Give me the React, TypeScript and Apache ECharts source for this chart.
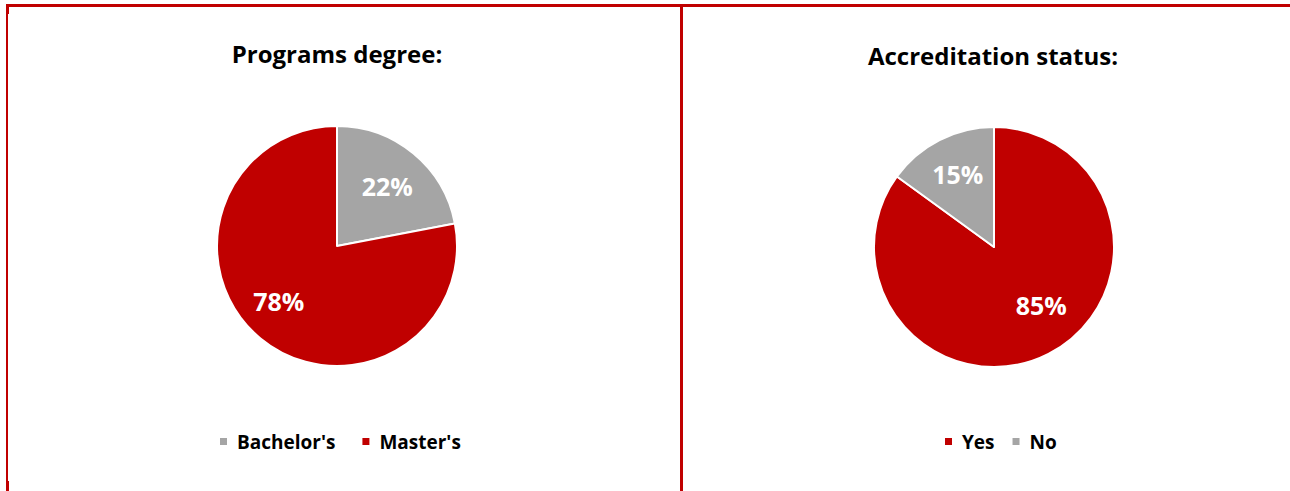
import React, { useEffect, useRef } from "react";
import * as echarts from "echarts";

const degreeNames = ["Bachelor's", "Master's"];
const degreeValues = [22, 78];
const accrNames = ["Yes", "No"];
const accrValues = [85, 15];

const RED = "#C00000";
const GRAY = "#A5A5A5";
const FONT = '"Open Sans", "Noto Sans", sans-serif';

// label nudges (styling only)
const degreeLabelOffsets = [[-2, 3], [-6, -8]];
const accrLabelOffsets = [[10, -15], [1, 0]];

export default function App() {
  const ref = useRef<HTMLDivElement>(null);
  useEffect(() => {
    const chart = echarts.init(ref.current!, null, { renderer: "svg" });
    const degreeData = degreeNames.map((n, i) => ({
      name: n,
      value: degreeValues[i],
      itemStyle: { color: n === "Master's" ? RED : GRAY },
    }));
    const accrData = accrNames.map((n, i) => ({
      name: n,
      value: accrValues[i],
      itemStyle: { color: n === "Yes" ? RED : GRAY },
    }));
    const pieBase = (center: number[], data: any[]) => ({
      type: "pie",
      center,
      radius: 120,
      startAngle: 90,
      clockwise: true,
      silent: true,
      itemStyle: { borderColor: "#fff", borderWidth: 2 },
      label: { show: false },
      labelLine: { show: false },
      emphasis: { disabled: true },
      data,
    });
    const labelSeries = (center: number[], data: any[], offsets: number[][]) => ({
      type: "pie",
      center,
      radius: 158,
      startAngle: 90,
      clockwise: true,
      silent: true,
      z: 5,
      legendHoverLink: false,
      itemStyle: { color: "transparent", borderWidth: 0 },
      label: {
        show: true,
        position: "inside",
        formatter: "{c}%",
        color: "#fff",
        fontSize: 25,
        fontWeight: "bold",
        fontFamily: FONT,
      },
      labelLine: { show: false },
      emphasis: { disabled: true },
      data: data.map((d, i) => ({
        name: d.name,
        value: d.value,
        itemStyle: { color: "transparent" },
        label: { offset: offsets[i] },
      })),
    });
    const legendText = {
      fontSize: 19,
      fontWeight: "bold",
      color: "#000",
      fontFamily: FONT,
      padding: [0, 0, 0, 4],
    };
    chart.setOption({
      animation: false,
      backgroundColor: "#fff",
      title: [
        {
          text: "Programs degree:",
          left: 332,
          top: 36,
          textAlign: "center",
          textStyle: { fontSize: 24, fontWeight: "bold", color: "#000", fontFamily: FONT },
        },
        {
          text: "Accreditation status:",
          left: 988,
          top: 38,
          textAlign: "center",
          textStyle: { fontSize: 24, fontWeight: "bold", color: "#000", fontFamily: FONT },
        },
      ],
      legend: [
        {
          data: degreeNames,
          left: 213,
          top: 427,
          icon: "rect",
          itemWidth: 9,
          itemHeight: 9,
          itemGap: 25,
          selectedMode: false,
          textStyle: legendText,
        },
        {
          data: accrNames,
          left: 938,
          top: 427,
          icon: "rect",
          itemWidth: 9,
          itemHeight: 9,
          itemGap: 16,
          selectedMode: false,
          textStyle: legendText,
        },
      ],
      series: [
        pieBase([337, 246], degreeData),
        pieBase([994, 247], accrData),
        labelSeries([337, 246], degreeData, degreeLabelOffsets),
        labelSeries([994, 247], accrData, accrLabelOffsets),
      ],
      graphic: [
        { type: "rect", shape: { x: 6, y: 4, width: 1284, height: 3 }, style: { fill: RED } },
        { type: "rect", shape: { x: 6, y: 4, width: 2, height: 487 }, style: { fill: RED } },
        { type: "rect", shape: { x: 6, y: 4, width: 3, height: 10 }, style: { fill: RED } },
        { type: "rect", shape: { x: 6, y: 481, width: 3, height: 10 }, style: { fill: RED } },
        { type: "rect", shape: { x: 680, y: 4, width: 3, height: 487 }, style: { fill: RED } },
      ],
    });
    return () => chart.dispose();
  }, []);
  return (
    <div
      ref={ref}
      style={{ position: "fixed", left: 0, top: 0, width: 1290, height: 491, background: "#fff" }}
    />
  );
}
